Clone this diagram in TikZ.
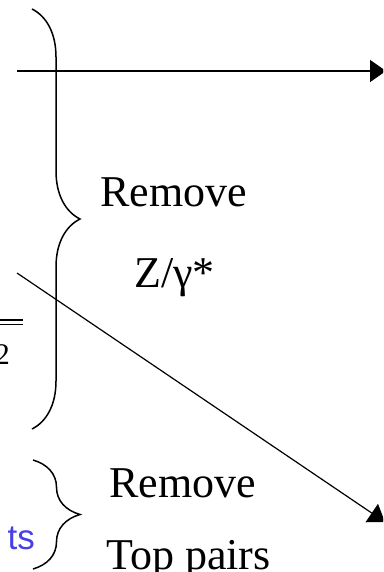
\documentclass[tikz,border=0pt]{standalone}
\usepackage{fontspec}
\setmainfont{Liberation Serif}
\newfontfamily\slidesans{Liberation Sans}
\usetikzlibrary{arrows.meta,decorations.pathreplacing}
\definecolor{ink}{HTML}{000000}
\definecolor{cutblue}{HTML}{4640E6}

\begin{document}
\begin{tikzpicture}[x=1pt,y=-1pt,
    lbl/.style={font=\fontsize{44}{50}\selectfont,inner sep=0pt,anchor=base west,ink},
    curly/.style={decorate,decoration={brace,amplitude=#1},line width=1.5pt,ink},
    flow/.style={line width=1.5pt,ink,-{Triangle[length=16pt,width=22pt]}}]
        \useasboundingbox (0,0) rectangle (383,572);
        \clip (0,0) rectangle (383,572);
        % braces
        \draw[curly=48pt] (32,9) -- (32,429);
        \draw[curly=47pt] (33,460) -- (33,569);
        % arrows
        \coordinate (h0) at (17,71);
        \coordinate (h1) at (386,71);
        \coordinate (d0) at (17,273);
        \coordinate (d1) at (385,522);
        \draw[flow] (h0) -- (h1);
        \draw[flow,line width=1.2pt] (d0) -- (d1);
        % labels
        \node[lbl] (rem1) at (100,206) {Remove};
        \node[lbl] (zg) at (134,287) {Z/γ*};
        \node[lbl] (rem2) at (109,497) {Remove};
        \node[lbl] (tp) at (106,569) {Top pairs};
        \node[font=\slidesans\fontsize{35}{40}\selectfont,text=cutblue,inner sep=0pt,anchor=base east] (ts) at (35,549) {ts};
        % cut-off fraction at the left edge
        \draw[line width=1.2pt,ink] (0,320) -- (23,320);
        \draw[line width=1.2pt,ink] (0,324.5) -- (23,324.5);
        \node[font=\fontsize{30}{34}\selectfont,inner sep=0pt,anchor=base east,ink] (two) at (10,364) {2};
      \end{tikzpicture}
\end{document}
